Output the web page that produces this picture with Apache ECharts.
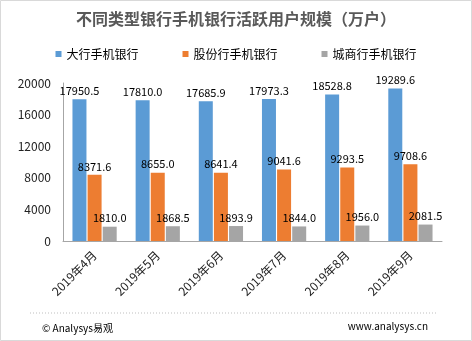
<!DOCTYPE html>
<html><head><meta charset="utf-8">
<script src="https://cdn.jsdelivr.net/npm/echarts@6/dist/echarts.min.js"></script>
<style>html,body{margin:0;padding:0;background:#fff}#c{width:472px;height:341px}</style>
</head><body><div id="c"></div>
<script>
const categories = ['2019年4月','2019年5月','2019年6月','2019年7月','2019年8月','2019年9月'];
const bigBanks = [17950.5, 17810.0, 17685.9, 17973.3, 18528.8, 19289.6];
const jointBanks = [8371.6, 8655.0, 8641.4, 9041.6, 9293.5, 9708.6];
const cityBanks = [1810.0, 1868.5, 1893.9, 1844.0, 1956.0, 2081.5];
const seriesNames = ['大行手机银行','股份行手机银行','城商行手机银行'];
const yTicks = [0, 4000, 8000, 12000, 16000, 20000];

const chart = echarts.init(document.getElementById('c'));
const font = '"Microsoft YaHei","Noto Sans CJK SC",sans-serif';
const lbl = {show:true, position:'top', color:'#000', fontSize:11, fontFamily:font, distance:3,
  formatter: p => p.value.toFixed(1)};
chart.setOption({
  animation:false,
  title:{text:'不同类型银行手机银行活跃用户规模（万户）', left:'center', top:6,
    textStyle:{fontSize:16, fontWeight:'bold', color:'#595959', fontFamily:font}},
  legend:{top:43, left:'center', itemWidth:6, itemHeight:6, itemGap:44, icon:'rect',
    textStyle:{fontSize:12, color:'#000', fontFamily:font}},
  grid:{left:63, right:30, top:83, bottom:100},
  xAxis:{type:'category', data:categories,
    axisLine:{lineStyle:{color:'#a6a6a6'}}, axisTick:{show:false},
    axisLabel:{rotate:45, fontSize:12, color:'#222', fontFamily:font, margin:12}},
  yAxis:{type:'value', min:yTicks[0], max:yTicks[yTicks.length-1], interval:4000,
    splitLine:{show:false}, axisLine:{show:true, lineStyle:{color:'#a6a6a6'}}, axisTick:{show:false},
    axisLabel:{fontSize:12, color:'#222', fontFamily:font, margin:12, formatter: v => String(v)}},
  series:[
    {name:seriesNames[0], type:'bar', data:bigBanks, barWidth:14, barGap:'8%', itemStyle:{color:'#5B9BD5'}, label:lbl},
    {name:seriesNames[1], type:'bar', data:jointBanks, barWidth:14, itemStyle:{color:'#ED7D31'}, label:lbl},
    {name:seriesNames[2], type:'bar', data:cityBanks, barWidth:14, itemStyle:{color:'#A5A5A5'}, label:lbl}
  ],
  graphic:[
    {type:'rect', shape:{x:0.5,y:0.5,width:471,height:340}, style:{fill:null, stroke:'#d9d9d9', lineWidth:1}, silent:true},
    {type:'line', shape:{x1:30,y1:313,x2:438,y2:313}, style:{stroke:'#bfbfbf', lineWidth:1, lineDash:[1,2]}},
    {type:'text', left:42, top:323, style:{text:'© Analysys易观', fontSize:10, fill:'#000', fontFamily:font}},
    {type:'text', right:44, top:321, style:{text:'www.analysys.cn', fontSize:10, fill:'#000', fontFamily:font}}
  ]
});
</script></body></html>
